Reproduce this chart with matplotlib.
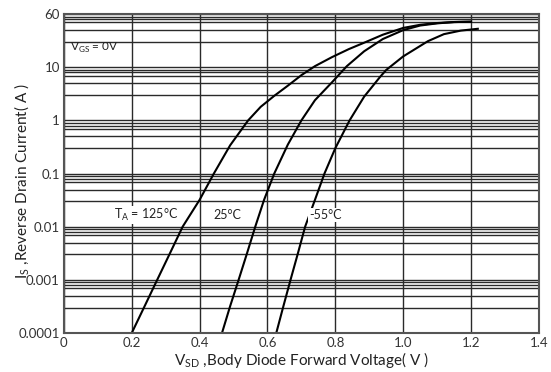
import matplotlib
matplotlib.use("Agg")
import matplotlib.pyplot as plt
from matplotlib.ticker import FixedLocator, NullFormatter

plt.rcParams['font.family'] = ['Lato', 'DejaVu Sans']
plt.rcParams['mathtext.fontset'] = 'custom'
plt.rcParams['mathtext.rm'] = 'Lato'

# Body diode forward voltage (V) vs reverse drain current (A)
v_125 = [0.20, 0.238, 0.275, 0.313, 0.35, 0.40, 0.442, 0.49, 0.543, 0.58, 0.62, 0.66,
         0.70, 0.74, 0.79, 0.84, 0.885, 0.94, 1.00, 1.05, 1.10, 1.15, 1.20]
i_125 = [1e-4, 3.2e-4, 1e-3, 3.2e-3, 1e-2, 0.032, 0.1, 0.34, 1.0, 1.8, 2.9, 4.5,
         7.1, 10.5, 15.5, 22, 29, 41, 55, 63, 68, 71, 72]

v_25 = [0.466, 0.49, 0.515, 0.54, 0.564, 0.59, 0.62, 0.66, 0.70, 0.74, 0.79, 0.834,
        0.885, 0.94, 1.00, 1.05, 1.10, 1.15, 1.20]
i_25 = [1e-4, 3.2e-4, 1e-3, 3.2e-3, 1e-2, 0.032, 0.1, 0.35, 1.0, 2.4, 5.2, 10.5,
        20, 34, 50, 61, 67, 71, 72]

v_m55 = [0.626, 0.647, 0.668, 0.69, 0.711, 0.74, 0.768, 0.80, 0.842, 0.885, 0.932,
         0.95, 1.00, 1.073, 1.12, 1.17, 1.22]
i_m55 = [1e-4, 3.2e-4, 1e-3, 3.2e-3, 1e-2, 0.032, 0.1, 0.3, 1.0, 2.8, 6.6,
         8.9, 16, 31, 42, 49, 53]

x_ticks = [0, 0.2, 0.4, 0.6, 0.8, 1.0, 1.2, 1.4]
x_labels = ['0', '0.2', '0.4', '0.6', '0.8', '1.0', '1.2', '1.4']
y_ticks = [1e-4, 1e-3, 1e-2, 0.1, 1, 10, 100]
y_labels = ['0.0001', '0.001', '0.01', '0.1', '1', '10', '60']

fig = plt.figure(figsize=(5.51, 3.72), dpi=100)
ax = fig.add_axes([0.116, 0.105, 0.862, 0.857])

ax.set_yscale('log')
ax.set_xlim(0, 1.4)
ax.set_ylim(1e-4, 100)

# grid: decades plus 3,5,7,8,9 of each decade
minor = [m * 10.0**e for e in range(-4, 2) for m in (3, 5, 7, 8, 9)]
ax.yaxis.set_major_locator(FixedLocator(y_ticks))
ax.yaxis.set_minor_locator(FixedLocator(minor))
ax.yaxis.set_minor_formatter(NullFormatter())
ax.set_yticklabels(y_labels)
ax.set_xticks(x_ticks)
ax.set_xticklabels(x_labels)

ax.grid(True, which='both', axis='y', color='#2a2a2a', linewidth=1.0)
ax.grid(True, which='major', axis='x', color='#2a2a2a', linewidth=1.0)
ax.tick_params(which='both', length=0, labelsize=9.5, colors='#333333', pad=3)
for s in ax.spines.values():
    s.set_color('#555555')
    s.set_linewidth(1.5)

for v, i in [(v_125, i_125), (v_25, i_25), (v_m55, i_m55)]:
    ax.plot(v, i, color='black', linewidth=1.5, solid_joinstyle='round')

ax.set_xlabel(r'V$_{\mathregular{SD}}$ ,Body Diode Forward Voltage( V )', fontsize=11, color='#222222', labelpad=1)
fig.text(22 / 551, 1 - 181 / 372, r'I$_{\mathregular{S}}$ ,Reverse Drain Current( A )',
         fontsize=11, color='#222222', rotation=90, ha='center', va='center')

ax.text(0.018, 23, r'V$_{\mathregular{GS}}$ = 0V', fontsize=8.5, va='center', color='#222222')
ax.text(0.147, 0.0166, r'T$_{\mathregular{A}}$ = 125°C', fontsize=9, va='center', color='#222222',
        bbox=dict(facecolor='white', edgecolor='none', pad=0.5))
ax.text(0.44, 0.0166, '25°C', fontsize=9, va='center', color='#222222',
        bbox=dict(facecolor='white', edgecolor='none', pad=0.5))
ax.text(0.722, 0.0166, '-55°C', fontsize=9, va='center', color='#222222',
        bbox=dict(facecolor='white', edgecolor='none', pad=0.5))

fig.savefig('out.png', dpi=100)
